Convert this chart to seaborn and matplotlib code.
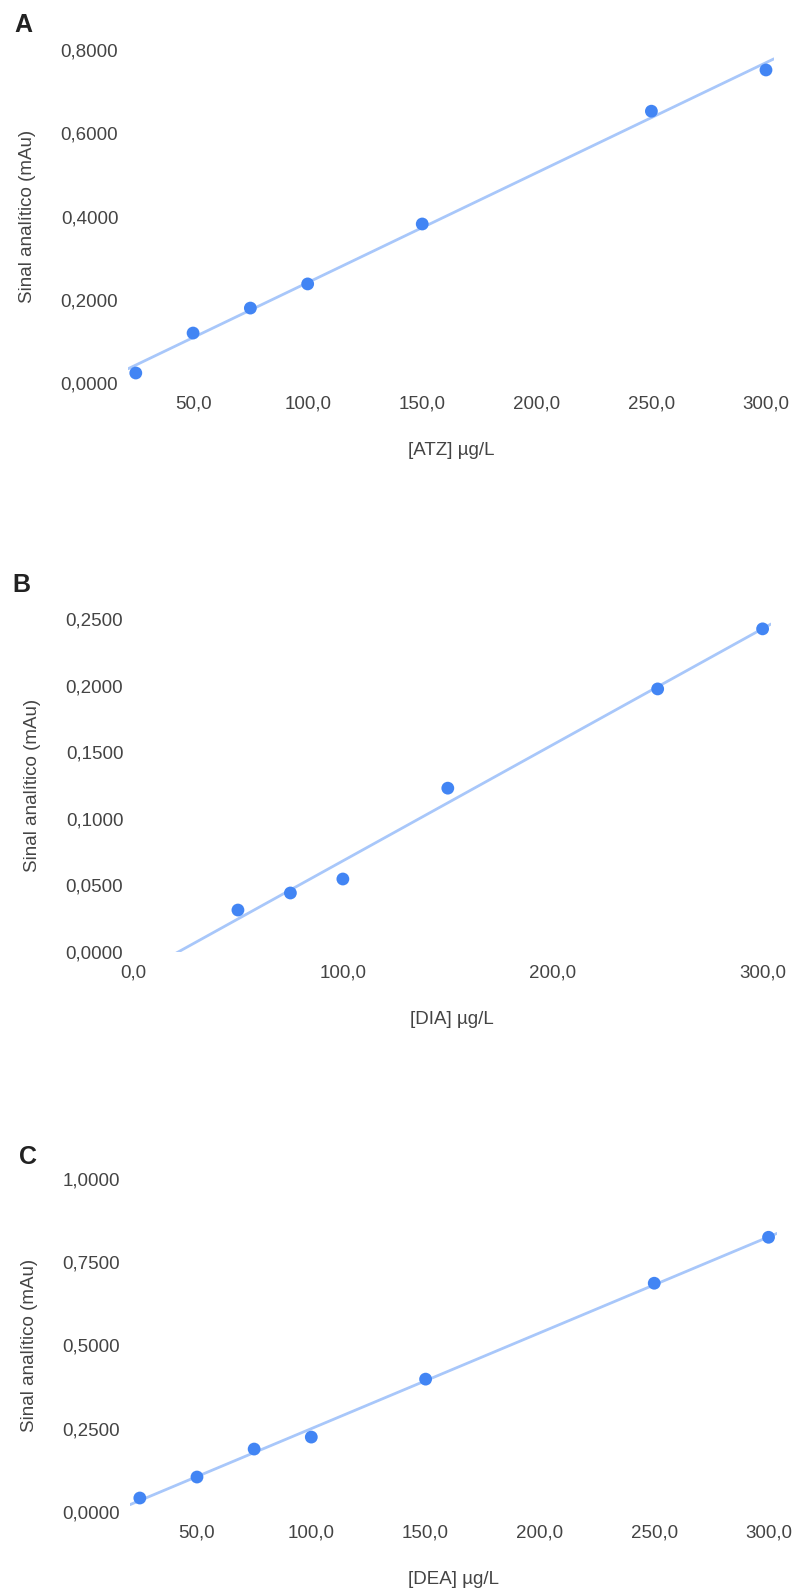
import numpy as np
import pandas as pd
import matplotlib
matplotlib.use("Agg")
import matplotlib.pyplot as plt
import seaborn as sns

# Calibration data
atz_conc = [25, 50, 75, 100, 150, 250, 300]
atz_signal = [0.024, 0.120, 0.180, 0.238, 0.382, 0.653, 0.752]

dia_conc = [50, 75, 100, 150, 250, 300]
dia_signal = [0.0315, 0.0443, 0.0548, 0.123, 0.1975, 0.2426]

dea_conc = [25, 50, 75, 100, 150, 250, 300]
dea_signal = [0.042, 0.105, 0.189, 0.225, 0.399, 0.687, 0.825]

atz_xticks = [50, 100, 150, 200, 250, 300]
atz_yticks = [0.0, 0.2, 0.4, 0.6, 0.8]
dia_xticks = [0, 100, 200, 300]
dia_yticks = [0.0, 0.05, 0.10, 0.15, 0.20, 0.25]
dea_xticks = [50, 100, 150, 200, 250, 300]
dea_yticks = [0.0, 0.25, 0.50, 0.75, 1.0]

sns.set_theme(style="white")
plt.rcParams['font.family'] = ['Liberation Sans', 'DejaVu Sans']

point_color = "#4285F4"
line_color = "#A8C7FA"
text_color = "#444444"

fig = plt.figure(figsize=(7.95, 15.91), dpi=100)

panels = [
    dict(x=atz_conc, y=atz_signal, xt=atz_xticks, yt=atz_yticks, xlim=(21.6, 303.5),
         ylim=(0, 0.8), label="[ATZ] µg/L", letter="A",
         rect=[128/795, 1-383/1591, 646/795, 333/1591], letter_pos=(14, 25)),
    dict(x=dia_conc, y=dia_signal, xt=dia_xticks, yt=dia_yticks, xlim=(0, 304),
         ylim=(0, 0.25), label="[DIA] µg/L", letter="B",
         rect=[133/795, 1-952/1591, 638/795, 333/1591], letter_pos=(12, 585)),
    dict(x=dea_conc, y=dea_signal, xt=dea_xticks, yt=dea_yticks, xlim=(20.7, 303.7),
         ylim=(0, 1.0), label="[DEA] µg/L", letter="C",
         rect=[130/795, 1-1512/1591, 647/795, 333/1591], letter_pos=(19, 1157)),
]

for p in panels:
    ax = fig.add_axes(p["rect"])
    ax.set_xlim(p["xlim"])
    df = pd.DataFrame({"conc": p["x"], "signal": p["y"]})
    sns.regplot(data=df, x="conc", y="signal", ax=ax, ci=None, truncate=False,
                scatter_kws=dict(s=85, color=point_color, edgecolor="none", alpha=1, zorder=3),
                line_kws=dict(color=line_color, lw=2.0, zorder=2))
    ax.set_xlim(p["xlim"])
    ax.set_ylim(p["ylim"])
    ax.set_xticks(p["xt"])
    ax.set_yticks(p["yt"])
    ax.set_xticklabels([f"{v:.1f}".replace(".", ",") for v in p["xt"]])
    ax.set_yticklabels([f"{v:.4f}".replace(".", ",") for v in p["yt"]])
    ax.tick_params(axis="both", length=0, labelsize=13.5, colors=text_color)
    ax.tick_params(axis="x", pad=9)
    ax.tick_params(axis="y", pad=7)
    for s in ax.spines.values():
        s.set_visible(False)
    ax.set_xlabel(p["label"], fontsize=13.5, color=text_color, labelpad=21)
    ax.set_ylabel("Sinal analítico (mAu)", fontsize=13.5, color=text_color, labelpad=18)
    ax.grid(False)
    for coll in ax.collections:
        coll.set_clip_on(False)
    fig.text(p["letter_pos"][0]/795, 1 - p["letter_pos"][1]/1591, p["letter"],
             fontsize=18, fontweight="bold", color="#222222", va="center", ha="left")

fig.savefig("out.png", dpi=100, facecolor="white")
